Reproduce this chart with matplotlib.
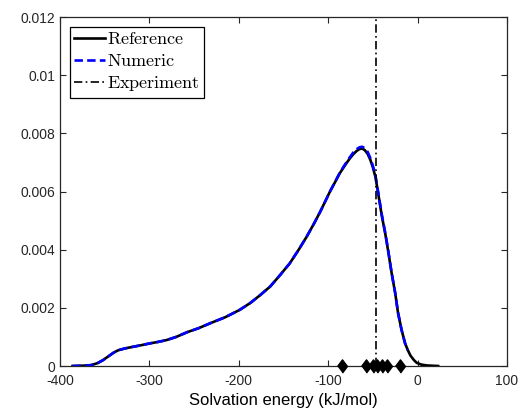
import matplotlib
matplotlib.use("Agg")
import matplotlib.pyplot as plt

# reference density curve
ref_x = [-386, -375, -365, -358, -352, -346, -340, -335, -328, -320, -310, -299,
         -290, -281, -270, -258, -245, -232, -215, -199, -187, -176, -165, -154,
         -143, -133, -124, -116, -109, -103, -98, -92, -87, -81, -76, -72, -68,
         -65, -62, -59, -56, -53, -50, -47, -44, -40, -36, -33, -29, -25, -22,
         -18, -14, -11, -8, -4, -1, 4, 10, 16, 23]
ref_y = [0.0, 0.00001, 0.00003, 0.0001, 0.0002, 0.00033, 0.00046, 0.00054, 0.0006,
         0.00065, 0.00071, 0.00078, 0.00083, 0.00089, 0.001, 0.00116, 0.0013, 0.00147,
         0.00168, 0.00193, 0.00217, 0.00244, 0.00273, 0.00312, 0.00353, 0.004, 0.00445,
         0.00489, 0.0053, 0.00568, 0.006, 0.00634, 0.00663, 0.00691, 0.00713, 0.00728,
         0.0074, 0.00746, 0.00748, 0.00742, 0.0073, 0.0071, 0.00683, 0.00648, 0.00592,
         0.00516, 0.00452, 0.00397, 0.00319, 0.0025, 0.00185, 0.00125, 0.00078, 0.00055,
         0.00036, 0.0002, 0.00011, 0.00005, 0.00002, 0.00001, 0.0]

# numeric estimate, nearly on top of the reference
num_x = [-386, -375, -365, -358, -352, -346, -340, -335, -328, -320, -310, -299,
         -290, -281, -270, -258, -245, -232, -215, -199, -187, -176, -165, -154,
         -143, -133, -124, -116, -109, -103, -98, -92, -87, -81, -76, -72, -68,
         -65, -62, -59, -56, -53, -50, -47, -44, -40, -36, -33, -29, -25, -22,
         -18, -14, -11]
num_y = [0.0, 0.00001, 0.00003, 0.0001, 0.0002, 0.00033, 0.00046, 0.00054, 0.0006,
         0.00065, 0.00071, 0.00078, 0.00083, 0.00089, 0.001, 0.00116, 0.0013, 0.00147,
         0.00168, 0.00193, 0.00217, 0.00244, 0.00273, 0.00312, 0.00353, 0.004, 0.00445,
         0.00489, 0.0053, 0.00568, 0.006, 0.00635, 0.00665, 0.00694, 0.00717, 0.00734,
         0.00746, 0.00752, 0.00754, 0.00749, 0.00737, 0.00716, 0.00688, 0.00652, 0.00596,
         0.0052, 0.00455, 0.00399, 0.00319, 0.0025, 0.00185, 0.00125, 0.00078, 0.00055]

# experimental samples and their mean
exp_samples = [-85, -57.7, -50.2, -45.1, -39.8, -34.6, -19.7]
exp_value = -46.5

x_ticks = [-400, -300, -200, -100, 0, 100]
y_ticks = [0, 0.002, 0.004, 0.006, 0.008, 0.01, 0.012]
y_labels = ["0", "0.002", "0.004", "0.006", "0.008", "0.01", "0.012"]

plt.rcParams["font.family"] = ["Liberation Sans", "DejaVu Sans"]
plt.rcParams["mathtext.fontset"] = "cm"
plt.rcParams["axes.unicode_minus"] = False

fig = plt.figure(figsize=(5.21, 4.17), dpi=100)
ax = fig.add_axes([0.1152, 0.1223, 0.8579, 0.8369])

ax.plot(ref_x, ref_y, color="black", lw=1.9, label=r"$\mathrm{Reference}$")
ax.plot(num_x, num_y, color="blue", lw=1.9, ls=(0, (3.2, 1.6)),
        label=r"$\mathrm{Numeric}$")
ax.plot([exp_value, exp_value], [0, 0.012], color="black", lw=1.2,
        ls=(0, (5, 2, 1, 2)), label=r"$\mathrm{Experiment}$")

diamond = [(-0.75, 0), (0, 1), (0.75, 0), (0, -1)]
ax.plot(exp_samples, [0] * len(exp_samples), ls="none", marker=diamond,
        ms=9.5, color="black", clip_on=False, zorder=5)

ax.set_xlim(-400, 100)
ax.set_ylim(0, 0.012)
ax.set_xticks(x_ticks)
ax.set_yticks(y_ticks)
ax.set_yticklabels(y_labels)
ax.tick_params(direction="in", top=True, right=True, labelsize=10,
               length=4, width=0.8, colors="#262626")
ax.tick_params(axis="x", pad=6)
for s in ax.spines.values():
    s.set_linewidth(0.9)
    s.set_color("#262626")
ax.set_xlabel("Solvation energy (kJ/mol)", fontsize=12, labelpad=3)

leg = ax.legend(loc="upper left", fontsize=13, handlelength=1.7, handletextpad=0.1,
                borderpad=0.25, labelspacing=0.25, borderaxespad=0.55,
                fancybox=False, framealpha=1, edgecolor="black")
leg.get_frame().set_linewidth(0.9)

fig.savefig("out.png", dpi=100)
